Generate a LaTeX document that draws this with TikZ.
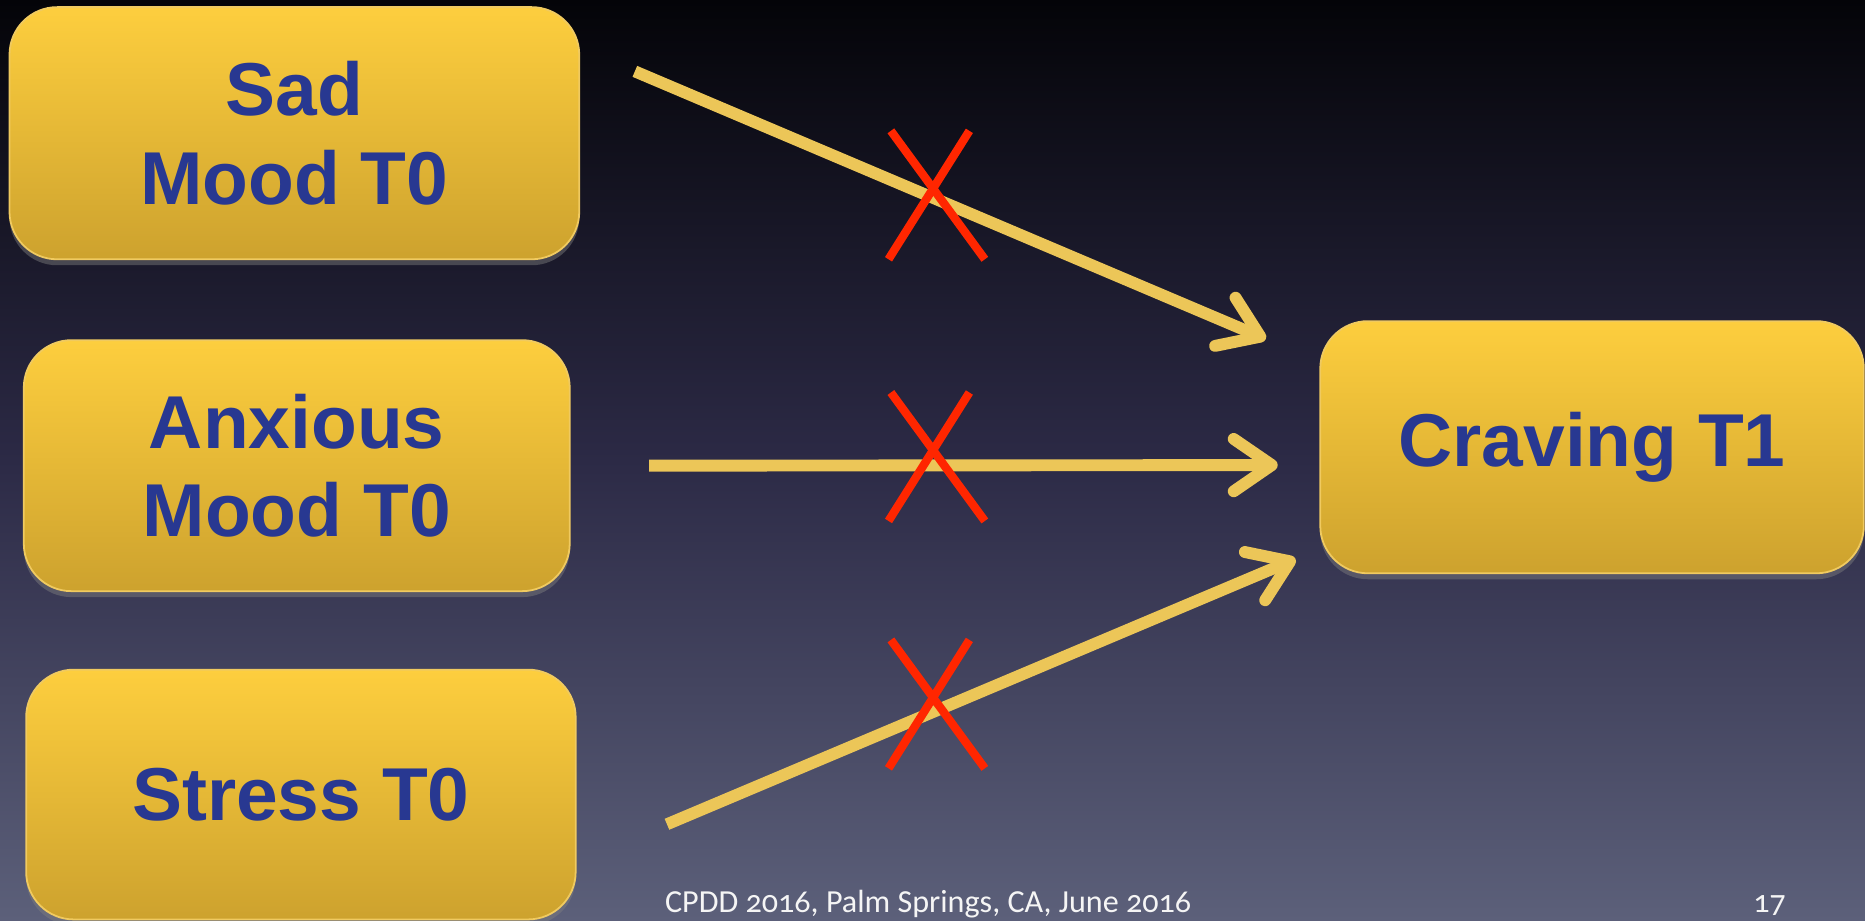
\documentclass[tikz,border=0pt]{standalone}
\usepackage{fontspec}
\setmainfont{Liberation Sans}
\newfontfamily\footfont[Numbers=OldStyle]{Carlito}
\usetikzlibrary{positioning,arrows.meta,shadows}

\definecolor{boxtop}{RGB}{253,206,62}
\definecolor{boxbottom}{RGB}{205,162,46}
\definecolor{boxrim}{RGB}{240,202,96}
\definecolor{labelblue}{RGB}{40,56,145}
\definecolor{arrowgold}{RGB}{236,198,88}
\definecolor{crossred}{RGB}{255,38,0}
\definecolor{bgtop}{RGB}{4,4,8}
\definecolor{bgmid}{RGB}{44,42,70}
\definecolor{bgbottom}{RGB}{92,96,122}

\begin{document}
\begin{tikzpicture}
		[x=1pt,y=-1pt,
		moodnode/.style={rectangle, rounded corners=40pt, draw=boxrim, line width=1.5pt, top color=boxtop, bottom color=boxbottom, text=labelblue, font=\bfseries\fontsize{63}{74}\selectfont, align=center, inner sep=0pt, drop shadow={opacity=0.45, shadow xshift=0pt, shadow yshift=-5pt}},
		arrowline/.style={draw=arrowgold, line width=10pt, -{Straight Barb[length=32pt,width=44pt,line cap=round,line join=round]}},
		crossline/.style={draw=crossred, line width=7pt},
		footnote/.style={text=white!92!gray, font=\footfont\fontsize{27}{30}\selectfont, inner sep=0pt, anchor=base west},
		]
		
		%Background
		\useasboundingbox (0,0) rectangle (1568,774);
		\shade[top color=bgtop, bottom color=bgbottom, middle color=bgmid] (0,0) rectangle (1568,774);
		
		%Nodes
		\node[moodnode, minimum width=479pt, minimum height=212pt](sad) at (247.5,112) {Sad\\Mood T0};
		\node[moodnode, minimum width=459pt, minimum height=211pt](anxious) at (249.5,391.5) {Anxious\\Mood T0};
		\node[moodnode, minimum width=462pt, minimum height=210pt](stress) at (253,668) {Stress T0};
		\node[moodnode, minimum width=457pt, minimum height=212pt](craving) at (1338.5,376) {Craving T1};
		\node[footnote](footer) at (559,767) {CPDD 2016, Palm Springs, CA, June 2016};
		\node[footnote](pagenum) at (1474,767) {17};
		
		%Lines
		\draw[arrowline]([xshift=46pt,yshift=52pt]sad.east) -- ([xshift=-45pt,yshift=91pt]craving.west);
		\draw[arrowline]([xshift=66pt]anxious.east) -- ([xshift=-35pt,yshift=-15pt]craving.west);
		\draw[arrowline]([xshift=76pt,yshift=-25pt]stress.east) -- ([xshift=-20pt,yshift=-94pt]craving.west);
		
		%Crosses
		\foreach \cy in {164,384,592}{
			\draw[crossline](747,\cy+54) -- (815,\cy-54);
			\draw[crossline](749,\cy-54) -- (828,\cy+54);
		}
	\end{tikzpicture}
\end{document}
